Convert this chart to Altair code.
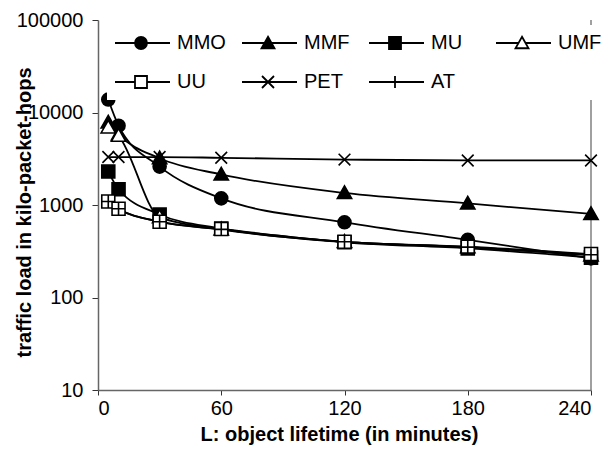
import altair as alt
import pandas as pd

# ---- data ----
minutes = [5, 10, 30, 60, 120, 180, 240]
series_names = ["MMO", "MMF", "MU", "UMF", "UU", "PET", "AT"]
mmo = [13800, 7200, 2600, 1180, 650, 420, 265]
mmf = [7800, 5800, 3200, 2140, 1350, 1040, 800]
mu = [2300, 1480, 790, 555, 395, 340, 270]
umf = [6900, 5600, 740, 545, 400, 350, 285]
uu = [1090, 910, 660, 550, 400, 355, 295]
pet = [3300, 3300, 3300, 3240, 3100, 3030, 3030]
at = [1090, 910, 660, 545, 400, 350, 290]
x_ticks = [0, 60, 120, 180, 240]
y_ticks = [10, 100, 1000, 10000, 100000]

values = [mmo, mmf, mu, umf, uu, pet, at]
rows = []
for name, vals in zip(series_names, values):
    for m, v in zip(minutes, vals):
        rows.append({"series": name, "minutes": m, "load": v})
df = pd.DataFrame(rows)

FONT = "Liberation Sans"

# marker shapes for the data points
data_shapes = [
    "circle",
    "M0,-1.1L1.1,0.85L-1.1,0.85Z",
    "M-1,-1L1,-1L1,1L-1,1Z",
    "M0,-1.1L1.1,0.85L-1.1,0.85Z",
    "M-1,-1L1,-1L1,1L-1,1Z",
    "M-0.9,-0.9L0.9,0.9M-0.9,0.9L0.9,-0.9",
    "M-1,0L1,0M0,-1L0,1",
]
fills = ["black", "black", "black", "white", "white", "transparent", "transparent"]
strokes = ["black"] * 7

# legend symbols: line with marker
legend_shapes = [
    "M-2,0L2.0,0M4.4,0L9,0M4.4,0A1.2,1.2 0 1,1 2.0,0A1.2,1.2 0 1,1 4.4,0Z",
    "M-2,0L2.49,0M3.91,0L9,0M3.2,-1.25L4.5,1.05L1.9,1.05Z",
    "M-2,0L2.0,0M4.4,0L9,0M2.0,-1.2L4.4,-1.2L4.4,1.2L2.0,1.2Z",
    "M-2,0L2.49,0M3.91,0L9,0M3.2,-1.25L4.5,1.05L1.9,1.05Z",
    "M-2,0L2.0,0M4.4,0L9,0M2.0,-1.2L4.4,-1.2L4.4,1.2L2.0,1.2Z",
    "M-2,0L9,0M2.0,-1.2L4.4,1.2M2.0,1.2L4.4,-1.2",
    "M-2,0L9,0M3.2,-1.2L3.2,1.2",
]

x_enc = alt.X(
    "minutes:Q",
    scale=alt.Scale(domain=[0, 240], nice=False),
    axis=alt.Axis(
        values=x_ticks,
        title="L: object lifetime (in minutes)",
        titleX=241,
        titleY=50,
        titleBaseline="alphabetic",
        labelPadding=3,
        tickSize=5,
    ),
)
y_enc = alt.Y(
    "load:Q",
    scale=alt.Scale(type="log", domain=[10, 100000], nice=False),
    axis=alt.Axis(
        values=y_ticks,
        format="d",
        title="traffic load in kilo-packet-hops",
        titleX=-74,
        titleY=192,
        titleAngle=-90,
        titleAlign="center",
        titleBaseline="middle",
        labelPadding=9,
        tickSize=6,
    ),
)

base = alt.Chart(df)

lines = base.mark_line(
    color="black", strokeWidth=1.8, interpolate="monotone"
).encode(x=x_enc, y=y_enc, detail="series:N")

points = base.mark_point(
    filled=True, stroke="black", strokeWidth=1.6, size=169, opacity=1
).encode(
    x=x_enc,
    y=y_enc,
    shape=alt.Shape("series:N", scale=alt.Scale(domain=series_names, range=data_shapes), legend=None),
    fill=alt.Fill("series:N", scale=alt.Scale(domain=series_names, range=fills), legend=None),
)

border = alt.Chart(pd.DataFrame({"minutes": [240]})).mark_rule(
    color="#808080", strokeWidth=1.5
).encode(x="minutes:Q")

legend_def = alt.Legend(
    title=None,
    orient="none",
    direction="horizontal",
    legendX=9,
    legendY=5,
    padding=8,
    fillColor="white",
    columns=4,
    columnPadding=12,
    rowPadding=19,
    gridAlign="all",
    symbolSize=100,
    symbolStrokeWidth=1.8,
    symbolStrokeColor="black",
    labelFont=FONT,
    labelFontSize=20,
    labelColor="black",
    labelOffset=42,
)

legend_layer = base.transform_filter("false").mark_point(
    filled=True, strokeWidth=1.8, opacity=1
).encode(
    x=x_enc,
    y=y_enc,
    shape=alt.Shape("series:N", scale=alt.Scale(domain=series_names, range=legend_shapes), legend=legend_def),
    fill=alt.Fill("series:N", scale=alt.Scale(domain=series_names, range=fills), legend=legend_def),
    stroke=alt.Stroke("series:N", scale=alt.Scale(domain=series_names, range=strokes), legend=legend_def),
)

chart = (
    alt.layer(border, lines, points, legend_layer)
    .resolve_scale(shape="independent", fill="independent", stroke="independent")
    .properties(
        width=493,
        height=370,
        autosize=alt.AutoSizeParams(type="none"),
        padding={"left": 90, "top": 12, "right": 12, "bottom": 60},
        background="white",
    )
    .configure_view(stroke=None)
    .configure_axis(
        grid=False,
        domainColor="#666666",
        domainWidth=1.5,
        tickColor="#333333",
        tickWidth=1,
        labelFont=FONT,
        labelFontSize=20,
        labelColor="black",
        titleFont=FONT,
        titleFontSize=20,
        titleFontWeight="bold",
        titleColor="black",
    )
)

chart.save("out.html", embed_options={"renderer": "svg", "actions": False})
